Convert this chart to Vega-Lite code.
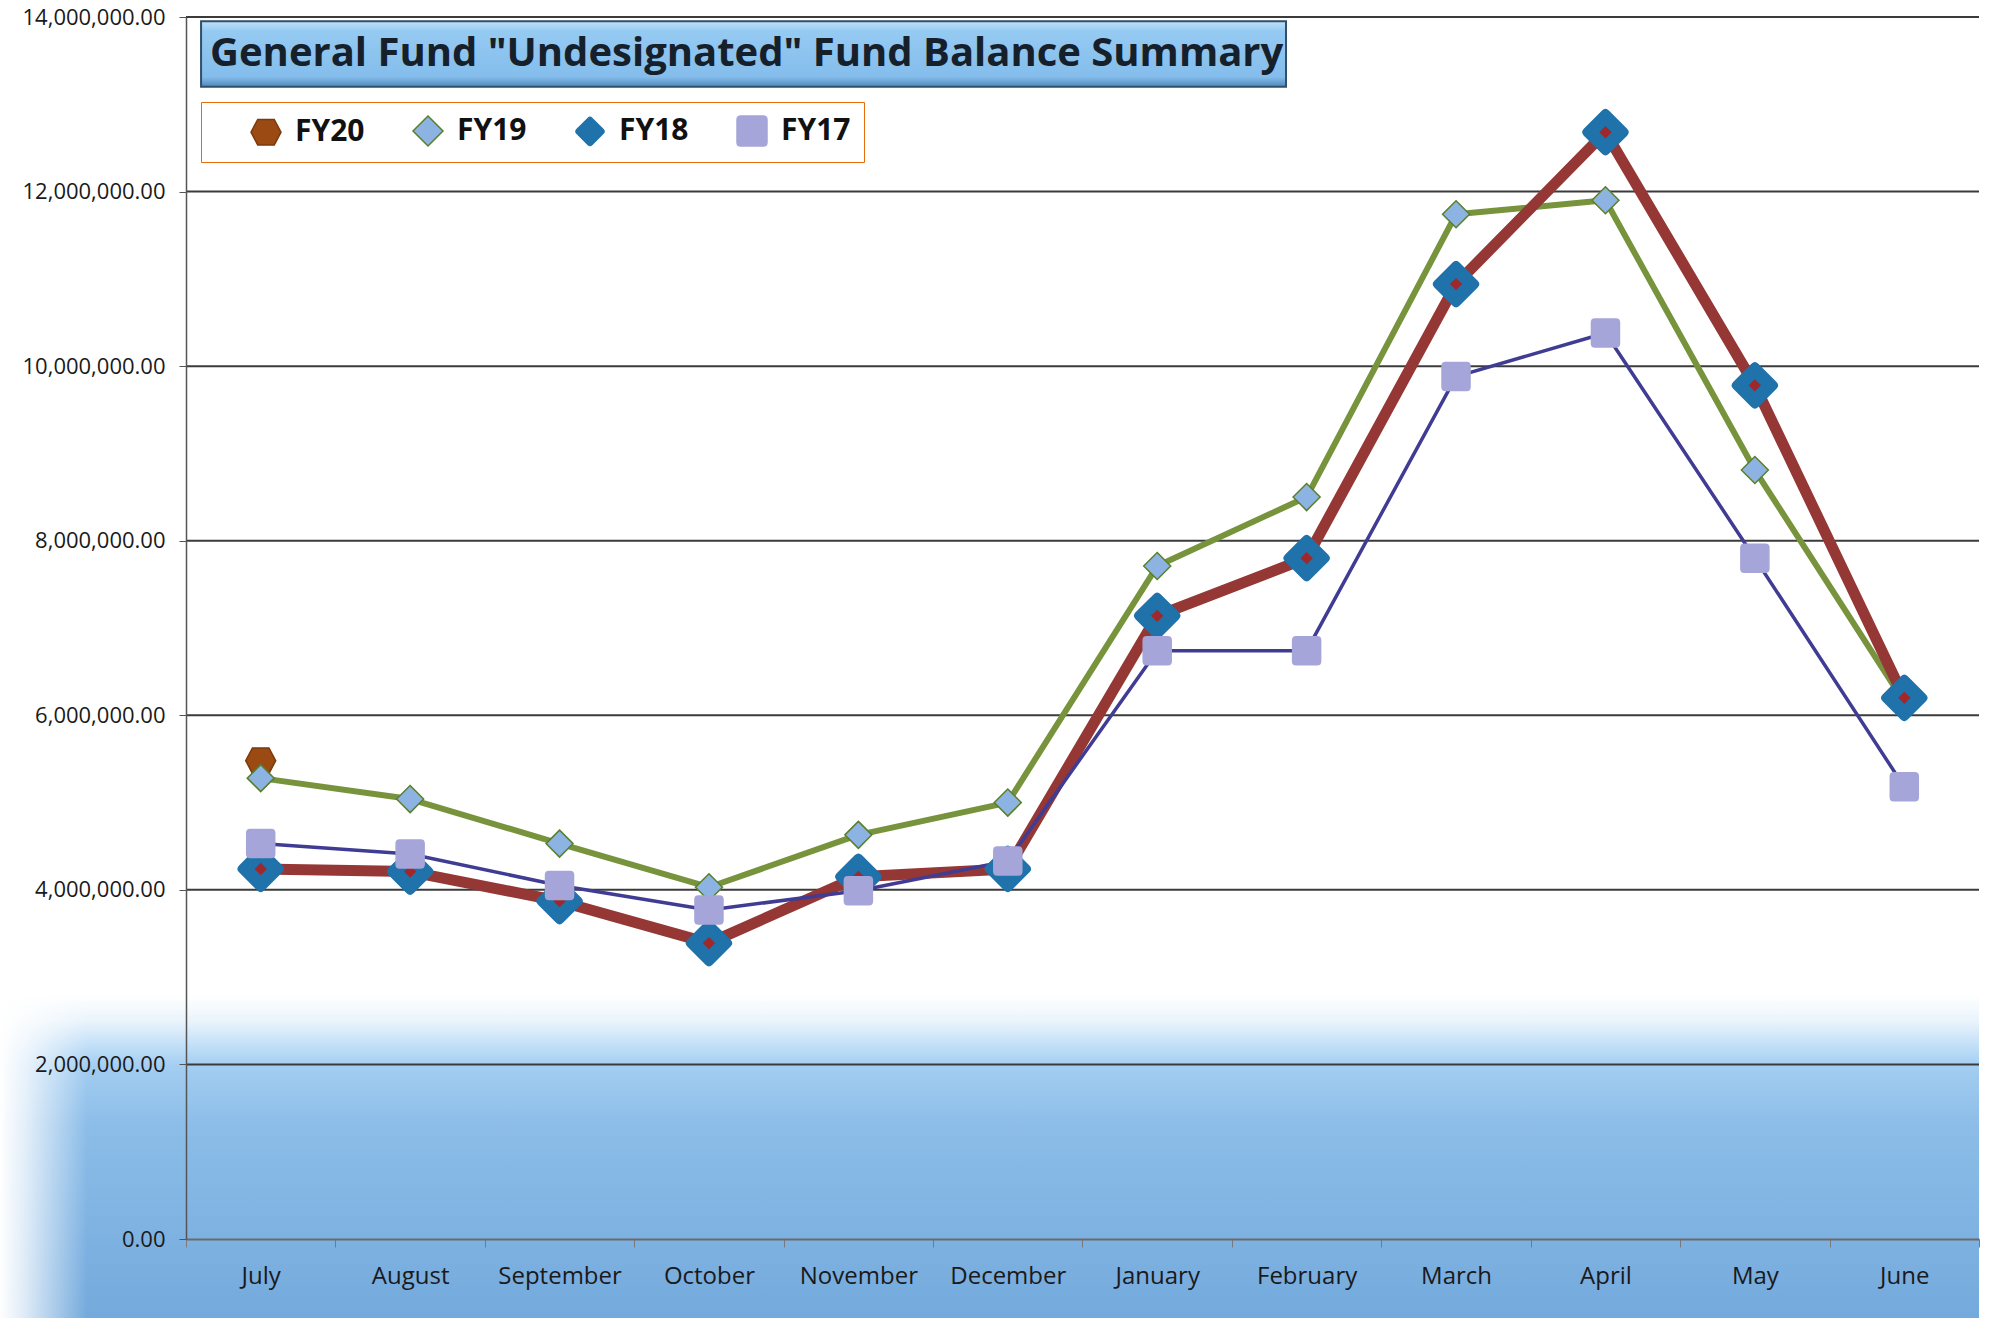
{
  "$schema": "https://vega.github.io/schema/vega-lite/v6.json",
  "width": 1793,
  "height": 1222,
  "autosize": {"type": "none"},
  "padding": {"left": 186, "top": 17, "right": 28, "bottom": 79},
  "background": "white",
  "config": {
    "view": {"stroke": null},
    "font": "Open Sans"
  },
  "datasets": {
    "funds": [
      {"month": "July", "series": "FY20", "value": 5480000},
      {"month": "July", "series": "FY19", "value": 5280000},
      {"month": "August", "series": "FY19", "value": 5040000},
      {"month": "September", "series": "FY19", "value": 4530000},
      {"month": "October", "series": "FY19", "value": 4030000},
      {"month": "November", "series": "FY19", "value": 4630000},
      {"month": "December", "series": "FY19", "value": 5000000},
      {"month": "January", "series": "FY19", "value": 7710000},
      {"month": "February", "series": "FY19", "value": 8500000},
      {"month": "March", "series": "FY19", "value": 11740000},
      {"month": "April", "series": "FY19", "value": 11900000},
      {"month": "May", "series": "FY19", "value": 8810000},
      {"month": "June", "series": "FY19", "value": 6150000},
      {"month": "July", "series": "FY18", "value": 4240000},
      {"month": "August", "series": "FY18", "value": 4210000},
      {"month": "September", "series": "FY18", "value": 3870000},
      {"month": "October", "series": "FY18", "value": 3390000},
      {"month": "November", "series": "FY18", "value": 4150000},
      {"month": "December", "series": "FY18", "value": 4240000},
      {"month": "January", "series": "FY18", "value": 7140000},
      {"month": "February", "series": "FY18", "value": 7800000},
      {"month": "March", "series": "FY18", "value": 10940000},
      {"month": "April", "series": "FY18", "value": 12680000},
      {"month": "May", "series": "FY18", "value": 9780000},
      {"month": "June", "series": "FY18", "value": 6200000},
      {"month": "July", "series": "FY17", "value": 4530000},
      {"month": "August", "series": "FY17", "value": 4410000},
      {"month": "September", "series": "FY17", "value": 4050000},
      {"month": "October", "series": "FY17", "value": 3770000},
      {"month": "November", "series": "FY17", "value": 3990000},
      {"month": "December", "series": "FY17", "value": 4330000},
      {"month": "January", "series": "FY17", "value": 6740000},
      {"month": "February", "series": "FY17", "value": 6740000},
      {"month": "March", "series": "FY17", "value": 9880000},
      {"month": "April", "series": "FY17", "value": 10380000},
      {"month": "May", "series": "FY17", "value": 7800000},
      {"month": "June", "series": "FY17", "value": 5180000}
    ],
    "bg": [{"x1": -0.104, "x2": 1.0, "y1": 2800000, "y2": -950000}],
    "vig": [{"x1": -0.104, "x2": -0.055, "y1": 2800000, "y2": -950000}],
    "grid": [{"v": 2000000}, {"v": 4000000}, {"v": 6000000}, {"v": 8000000}, {"v": 10000000}, {"v": 12000000}, {"v": 14000000}],
    "titlebox": [{"x1": 0.0084, "x2": 0.6135, "y1": 13950000, "y2": 13200000, "tx": 0.0134, "ty": 13575000, "label": "General Fund \"Undesignated\" Fund Balance Summary"}]
  },
  "resolve": {"scale": {"x": "independent"}},
  "layer": [
    {
      "data": {"name": "bg"},
      "mark": {
        "type": "rect",
        "fill": {
          "gradient": "linear", "x1": 0, "y1": 0, "x2": 0, "y2": 1,
          "stops": [
            {"offset": 0, "color": "#ffffff"},
            {"offset": 0.08, "color": "#eaf4fc"},
            {"offset": 0.16, "color": "#c0def7"},
            {"offset": 0.22, "color": "#a3cdf1"},
            {"offset": 0.4, "color": "#8cbde8"},
            {"offset": 1, "color": "#73a9dc"}
          ]
        }
      },
      "encoding": {
        "x": {"field": "x1", "type": "quantitative", "scale": {"domain": [0, 1], "nice": false, "zero": false}, "axis": null},
        "x2": {"field": "x2"},
        "y": {"field": "y1", "type": "quantitative", "title": null},
        "y2": {"field": "y2"}
      }
    },
    {
      "data": {"name": "vig"},
      "mark": {
        "type": "rect",
        "fill": {
          "gradient": "linear", "x1": 0, "y1": 0, "x2": 1, "y2": 0,
          "stops": [
            {"offset": 0, "color": "rgba(255,255,255,1)"},
            {"offset": 0.3, "color": "rgba(255,255,255,0.75)"},
            {"offset": 1, "color": "rgba(255,255,255,0)"}
          ]
        }
      },
      "encoding": {
        "x": {"field": "x1", "type": "quantitative", "scale": {"domain": [0, 1], "nice": false, "zero": false}, "axis": null},
        "x2": {"field": "x2"},
        "y": {"field": "y1", "type": "quantitative", "title": null},
        "y2": {"field": "y2"}
      }
    },
    {
      "data": {"name": "grid"},
      "mark": {"type": "rule", "color": "#3b3b3b", "strokeWidth": 2},
      "encoding": {
        "y": {"field": "v", "type": "quantitative", "title": null}
      }
    },
    {
      "data": {"name": "funds"},
      "transform": [{"filter": "datum.series === 'FY19'"}],
      "mark": {"type": "line", "strokeJoin": "round", "strokeCap": "round", "color": "#77933C", "strokeWidth": 6},
      "encoding": {
        "x": {
          "field": "month", "type": "ordinal",
          "sort": ["July", "August", "September", "October", "November", "December", "January", "February", "March", "April", "May", "June"],
          "scale": {"type": "band", "domain": ["July", "August", "September", "October", "November", "December", "January", "February", "March", "April", "May", "June"], "paddingInner": 0, "paddingOuter": 0},
          "axis": {"title": null, "labelFontSize": 24, "labelColor": "#1a1a1a", "tickBand": "extent", "tickSize": 8, "tickColor": "#7a7a7a", "domainColor": "#6a6a6a", "domainWidth": 2, "labelPadding": 17, "labelAngle": 0, "grid": false, "zindex": 1}
        },
        "y": {
          "field": "value", "type": "quantitative",
          "scale": {"domain": [0, 14000000], "nice": false},
          "axis": {"title": null, "values": [0, 2000000, 4000000, 6000000, 8000000, 10000000, 12000000, 14000000], "format": ",.2f", "labelFontSize": 22, "labelColor": "#1a1a1a", "tickSize": 7, "tickColor": "#555555", "domainColor": "#555555", "domainWidth": 1.5, "labelPadding": 14, "grid": false, "zindex": 1}
        }
      }
    },
    {
      "data": {"name": "funds"},
      "transform": [{"filter": "datum.series === 'FY18'"}],
      "mark": {"type": "line", "strokeJoin": "round", "strokeCap": "round", "color": "#953735", "strokeWidth": 11},
      "encoding": {
        "x": {
          "field": "month", "type": "ordinal",
          "sort": ["July", "August", "September", "October", "November", "December", "January", "February", "March", "April", "May", "June"],
          "scale": {"type": "band", "domain": ["July", "August", "September", "October", "November", "December", "January", "February", "March", "April", "May", "June"], "paddingInner": 0, "paddingOuter": 0},
          "axis": null
        },
        "y": {"field": "value", "type": "quantitative", "title": null}
      }
    },
    {
      "data": {"name": "funds"},
      "transform": [{"filter": "datum.series === 'FY17'"}],
      "mark": {"type": "line", "strokeJoin": "round", "strokeCap": "round", "color": "#403C94", "strokeWidth": 3.5},
      "encoding": {
        "x": {
          "field": "month", "type": "ordinal",
          "sort": ["July", "August", "September", "October", "November", "December", "January", "February", "March", "April", "May", "June"],
          "scale": {"type": "band", "domain": ["July", "August", "September", "October", "November", "December", "January", "February", "March", "April", "May", "June"], "paddingInner": 0, "paddingOuter": 0},
          "axis": null
        },
        "y": {"field": "value", "type": "quantitative", "title": null}
      }
    },
    {
      "data": {"name": "funds"},
      "transform": [{"filter": "datum.series === 'FY20'"}],
      "mark": {"type": "point", "filled": true, "strokeWidth": 1.5, "opacity": 1, "size": 900},
      "encoding": {
        "x": {
          "field": "month", "type": "ordinal",
          "sort": ["July", "August", "September", "October", "November", "December", "January", "February", "March", "April", "May", "June"],
          "scale": {"type": "band", "domain": ["July", "August", "September", "October", "November", "December", "January", "February", "March", "April", "May", "June"], "paddingInner": 0, "paddingOuter": 0},
          "axis": null
        },
        "y": {"field": "value", "type": "quantitative", "title": null},
        "shape": {
          "field": "series", "type": "nominal",
          "scale": {"domain": ["FY20", "FY19", "FY18", "FY17"], "range": [
            "M-0.55,-0.85L0.55,-0.85L1,0L0.55,0.85L-0.55,0.85L-1,0Z",
            "M0,-1L1,0L0,1L-1,0Z",
            "M-0.12,-0.88Q0,-1 0.12,-0.88L0.88,-0.12Q1,0 0.88,0.12L0.12,0.88Q0,1 -0.12,0.88L-0.88,0.12Q-1,0 -0.88,-0.12Z",
            "M-0.75,-1L0.75,-1Q1,-1 1,-0.75L1,0.75Q1,1 0.75,1L-0.75,1Q-1,1 -1,0.75L-1,-0.75Q-1,-1 -0.75,-1Z"
          ]},
          "legend": {
            "title": null,
            "orient": "none",
            "legendX": 15,
            "legendY": 85,
            "direction": "horizontal",
            "fillColor": "white",
            "strokeColor": "#E46C0A",
            "padding": 13,
            "symbolSize": 900,
            "symbolOffset": 36,
            "labelFontSize": 30,
            "labelFontWeight": "bold",
            "labelColor": "#111111",
            "labelFont": "Open Sans",
            "columnPadding": 11,
            "labelOffset": 13,
            "encode": {
              "legend": {
                "update": {
                  "strokeWidth": {"value": 2}
                }
              },
              "symbols": {
                "update": {
                  "size": {"signal": "datum.value === 'FY18' ? 1369 : datum.value === 'FY19' ? 484 : datum.value === 'FY20' ? 676 : 784"}
                }
              }
            }
          }
        },
        "fill": {"field": "series", "type": "nominal", "scale": {"domain": ["FY20", "FY19", "FY18", "FY17"], "range": ["#9A4A12", "#8DB3E2", "#1F72AA", "#A5A5D9"]}},
        "stroke": {"field": "series", "type": "nominal", "scale": {"domain": ["FY20", "FY19", "FY18", "FY17"], "range": ["#7A3A0C", "#5A7F2A", "#1F72AA", "#A5A5D9"]}}
      }
    },
    {
      "data": {"name": "funds"},
      "transform": [{"filter": "datum.series === 'FY19'"}],
      "mark": {"type": "point", "filled": true, "strokeWidth": 1.5, "opacity": 1, "size": 729},
      "encoding": {
        "x": {
          "field": "month", "type": "ordinal",
          "sort": ["July", "August", "September", "October", "November", "December", "January", "February", "March", "April", "May", "June"],
          "scale": {"type": "band", "domain": ["July", "August", "September", "October", "November", "December", "January", "February", "March", "April", "May", "June"], "paddingInner": 0, "paddingOuter": 0},
          "axis": null
        },
        "y": {"field": "value", "type": "quantitative", "title": null},
        "shape": {"field": "series", "type": "nominal"},
        "fill": {"field": "series", "type": "nominal"},
        "stroke": {"field": "series", "type": "nominal"}
      }
    },
    {
      "data": {"name": "funds"},
      "transform": [{"filter": "datum.series === 'FY18'"}],
      "mark": {"type": "point", "filled": true, "strokeWidth": 1.5, "opacity": 1, "size": 2304},
      "encoding": {
        "x": {
          "field": "month", "type": "ordinal",
          "sort": ["July", "August", "September", "October", "November", "December", "January", "February", "March", "April", "May", "June"],
          "scale": {"type": "band", "domain": ["July", "August", "September", "October", "November", "December", "January", "February", "March", "April", "May", "June"], "paddingInner": 0, "paddingOuter": 0},
          "axis": null
        },
        "y": {"field": "value", "type": "quantitative", "title": null},
        "shape": {"field": "series", "type": "nominal"},
        "fill": {"field": "series", "type": "nominal"},
        "stroke": {"field": "series", "type": "nominal"}
      }
    },
    {
      "data": {"name": "funds"},
      "transform": [{"filter": "datum.series === 'FY18'"}],
      "mark": {"type": "point", "filled": true, "shape": "diamond", "size": 150, "color": "#A0282A", "opacity": 1},
      "encoding": {
        "x": {
          "field": "month", "type": "ordinal",
          "sort": ["July", "August", "September", "October", "November", "December", "January", "February", "March", "April", "May", "June"],
          "scale": {"type": "band", "domain": ["July", "August", "September", "October", "November", "December", "January", "February", "March", "April", "May", "June"], "paddingInner": 0, "paddingOuter": 0},
          "axis": null
        },
        "y": {"field": "value", "type": "quantitative", "title": null}
      }
    },
    {
      "data": {"name": "funds"},
      "transform": [{"filter": "datum.series === 'FY17'"}],
      "mark": {"type": "point", "filled": true, "strokeWidth": 1.5, "opacity": 1, "size": 784},
      "encoding": {
        "x": {
          "field": "month", "type": "ordinal",
          "sort": ["July", "August", "September", "October", "November", "December", "January", "February", "March", "April", "May", "June"],
          "scale": {"type": "band", "domain": ["July", "August", "September", "October", "November", "December", "January", "February", "March", "April", "May", "June"], "paddingInner": 0, "paddingOuter": 0},
          "axis": null
        },
        "y": {"field": "value", "type": "quantitative", "title": null},
        "shape": {"field": "series", "type": "nominal"},
        "fill": {"field": "series", "type": "nominal"},
        "stroke": {"field": "series", "type": "nominal"}
      }
    },
    {
      "data": {"name": "titlebox"},
      "mark": {
        "type": "rect",
        "stroke": "#2f4f6a",
        "strokeWidth": 2,
        "fill": {
          "gradient": "linear", "x1": 0, "y1": 0, "x2": 0, "y2": 1,
          "stops": [
            {"offset": 0, "color": "#bfe1f9"},
            {"offset": 0.15, "color": "#95caf2"},
            {"offset": 0.85, "color": "#84bdec"},
            {"offset": 1, "color": "#4f87b8"}
          ]
        }
      },
      "encoding": {
        "x": {"field": "x1", "type": "quantitative", "scale": {"domain": [0, 1], "nice": false, "zero": false}, "axis": null},
        "x2": {"field": "x2"},
        "y": {"field": "y1", "type": "quantitative", "title": null},
        "y2": {"field": "y2"}
      }
    },
    {
      "data": {"name": "titlebox"},
      "mark": {"type": "text", "align": "left", "baseline": "middle", "font": "Open Sans", "fontSize": 40, "fontWeight": "bold", "color": "#16202b"},
      "encoding": {
        "x": {"field": "tx", "type": "quantitative", "scale": {"domain": [0, 1], "nice": false, "zero": false}, "axis": null},
        "y": {"field": "ty", "type": "quantitative", "title": null},
        "text": {"field": "label", "type": "nominal"}
      }
    }
  ]
}
